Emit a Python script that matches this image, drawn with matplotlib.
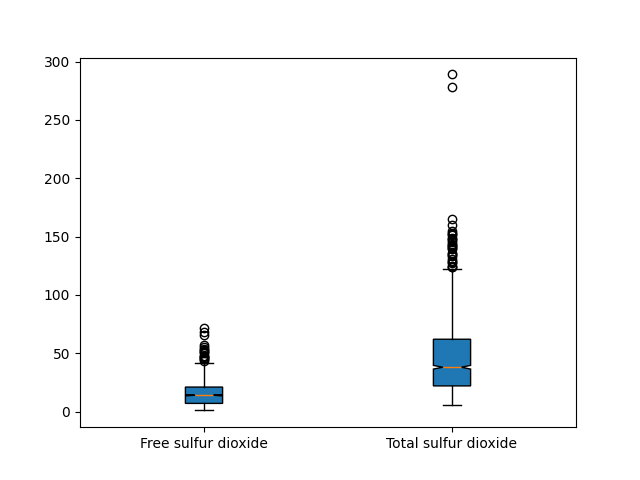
import matplotlib
matplotlib.use("Agg")
import matplotlib.pyplot as plt
import numpy as np

labels = ["Free sulfur dioxide", "Total sulfur dioxide"]
n_obs = 1599
whislo = [1, 6]
q1 = [7, 22]
med = [14, 38]
q3 = [21, 62]
whishi = [42, 122]
fliers_free = [43, 45, 45, 46, 47, 48, 48, 50, 51, 52, 53, 54, 55, 57, 66, 68, 72]
fliers_total = [124, 124, 125, 127, 128, 129, 131, 133, 134, 135, 136, 139, 140,
                141, 142, 143, 144, 145, 147, 148, 149, 151, 152, 153, 155, 160,
                165, 278, 289]
fliers = [fliers_free, fliers_total]

stats = []
for i in range(2):
    iqr = q3[i] - q1[i]
    half = 1.57 * iqr / np.sqrt(n_obs)
    stats.append(dict(label=labels[i], whislo=whislo[i], q1=q1[i], med=med[i],
                      q3=q3[i], whishi=whishi[i], fliers=fliers[i],
                      cilo=med[i] - half, cihi=med[i] + half))

fig, ax = plt.subplots(figsize=(6.4, 4.8), dpi=100)
ax.bxp(stats, shownotches=True, patch_artist=True,
       medianprops=dict(color="#ff7f0e"))
fig.savefig("out.png")
